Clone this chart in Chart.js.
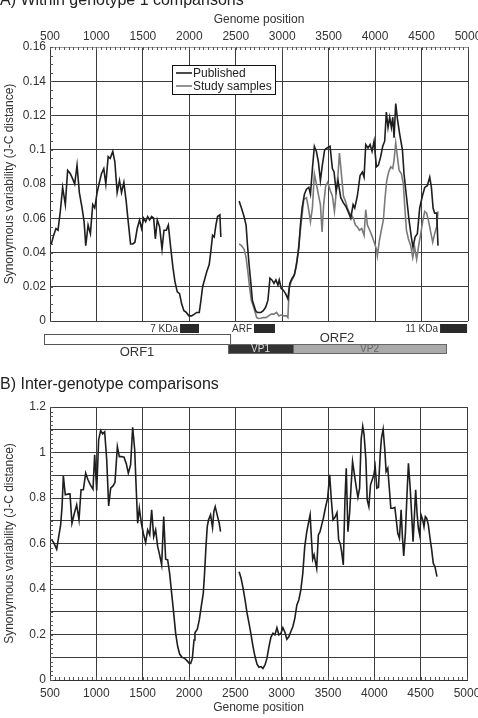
<!DOCTYPE html>
<html>
<head>
<meta charset="utf-8">
<script src="https://cdn.jsdelivr.net/npm/chart.js@4.4.1/dist/chart.umd.min.js"></script>
<style>
  body { margin: 0; background: #fff; overflow: hidden; }
  #wrap { position: relative; width: 478px; height: 718px; }
  canvas { position: absolute; left: 0; }
  #topChart { top: 0; }
  #bottomChart { top: 360px; }
</style>
</head>
<body>
<div id="wrap">
  <canvas id="topChart" width="478" height="360"></canvas>
  <canvas id="bottomChart" width="478" height="358"></canvas>
</div>
<script>
// --- data (genome position, J-C distance); null marks the gap ---
const pubPos = [514,539,564,586,611,636,665,690,719,744,766,791,816,845,867,885,910,935,960,982,
  1007,1032,1054,1079,1101,1126,1148,1176,1198,1223,1248,1270,1295,1320,1342,1367,1392,1414,1439,1464,
  1486,1508,1530,1551,1572,1594,1616,1634,1655,1680,1706,1727,1752,1774,1799,1824,1845,1870,1895,1917,
  1942,1967,1996,2025,2054,2079,2107,2125,2143,2168,2189,2214,2232,2250,2268,2286,2304,2329,2339,2440,
  2536,2561,2589,2611,2625,2643,2661,2679,2696,2714,2732,2754,2771,2796,2821,2846,2868,2889,2911,2932,
  2954,2968,2989,3011,3036,3061,3082,3107,3132,3154,3179,3196,3214,3239,3261,3286,3304,3325,3346,3368,
  3389,3411,3432,3457,3482,3515,3540,3558,3580,3601,3630,3659,3684,3709,3738,3763,3781,3809,3838,3863,
  3881,3899,3924,3946,3967,3989,4014,4035,4060,4082,4103,4121,4139,4157,4175,4190,4204,4222,4240,4265,
  4294,4311,4337,4365,4390,4408,4430,4455,4480,4509,4534,4562,4588,4606,4624,4641,4663,4677];
const pubVal = [0.045,0.050,0.054,0.053,0.064,0.078,0.068,0.088,0.086,0.083,0.080,0.091,0.075,0.066,0.058,0.044,0.056,0.051,0.068,0.066,
  0.075,0.081,0.086,0.089,0.080,0.096,0.095,0.099,0.093,0.075,0.082,0.075,0.081,0.070,0.058,0.045,0.045,0.046,0.054,0.059,
  0.054,0.060,0.058,0.061,0.059,0.061,0.060,0.048,0.059,0.055,0.042,0.053,0.053,0.056,0.043,0.031,0.023,0.017,0.016,0.010,
  0.006,0.005,0.003,0.003,0.004,0.005,0.005,0.012,0.020,0.025,0.029,0.033,0.041,0.050,0.049,0.056,0.061,0.062,0.049,null,
  0.070,0.066,0.061,0.056,0.045,0.033,0.023,0.012,0.009,0.006,0.005,0.005,0.005,0.006,0.008,0.012,0.025,0.024,0.022,0.024,
  0.021,0.024,0.019,0.018,0.016,0.013,0.022,0.025,0.027,0.033,0.043,0.056,0.066,0.074,0.077,0.078,0.074,0.089,0.102,0.099,
  0.093,0.082,0.091,0.100,0.101,0.102,0.089,0.087,0.076,0.082,0.072,0.069,0.067,0.064,0.060,0.068,0.066,0.073,0.085,0.087,
  0.084,0.103,0.101,0.103,0.099,0.105,0.090,0.091,0.096,0.102,0.105,0.122,0.113,0.119,0.113,0.119,0.107,0.127,0.118,0.109,
  0.100,0.086,0.073,0.059,0.049,0.043,0.049,0.051,0.066,0.073,0.078,0.079,0.084,0.078,0.066,0.063,0.063,0.044];

const studyPos = [2536,2561,2589,2611,2632,2650,2668,2686,2704,2725,2746,2768,2796,2825,2854,2882,2911,2939,2964,2989,
  3018,3046,3061,3075,3096,3125,3146,3168,3189,3214,3232,3261,3282,3304,3325,3346,3368,3389,3411,3429,
  3446,3468,3489,3518,3540,3562,3583,3601,3616,3637,3659,3680,3702,3723,3745,3766,3788,3809,3831,3856,
  3881,3899,3917,3942,3971,3996,4014,4024,4046,4067,4089,4107,4125,4146,4168,4190,4204,4222,4240,4258,
  4283,4304,4319,4337,4358,4383,4405,4426,4447,4469,4491,4512,4534,4555,4577,4598,4620,4641,4663,4677];
const studyVal = [0.045,0.044,0.042,0.037,0.028,0.019,0.012,0.009,0.006,0.002,0.0015,0.0016,0.002,0.002,0.003,0.004,0.004,0.005,0.003,0.0035,
  0.003,0.003,0.002,0.019,0.023,0.026,0.031,0.039,0.050,0.062,0.071,0.072,0.066,0.058,0.066,0.086,0.080,0.074,0.068,0.052,
  0.068,0.079,0.081,0.076,0.073,0.064,0.076,0.086,0.098,0.086,0.073,0.070,0.066,0.063,0.062,0.060,0.056,0.055,0.053,0.054,
  0.050,0.065,0.056,0.053,0.049,0.045,0.042,0.038,0.047,0.053,0.059,0.072,0.082,0.087,0.090,0.089,0.094,0.104,0.096,0.088,
  0.086,0.080,0.067,0.053,0.048,0.044,0.037,0.043,0.036,0.044,0.051,0.058,0.064,0.063,0.058,0.052,0.046,0.051,0.055,0.064];

const interPos = [514,540,572,594,615,630,644,665,691,716,737,763,788,813,835,860,885,910,935,964,
  982,1004,1025,1047,1068,1090,1112,1133,1155,1180,1201,1227,1248,1273,1299,1324,1345,1370,1392,1414,
  1428,1446,1464,1486,1507,1532,1554,1576,1597,1619,1640,1662,1683,1705,1727,1748,1770,1791,1813,1835,
  1856,1878,1899,1924,1953,1978,2004,2018,2036,2054,2064,2090,2111,2132,2154,2168,2183,2197,2211,2233,
  2254,2268,2283,2304,2326,2340,2440,
  2541,2562,2584,2605,2627,2648,2670,2691,2712,2734,2755,2777,2798,2820,2841,2863,2884,2906,2927,2949,
  2970,2992,3013,3035,3056,3078,3099,3121,3142,3164,3185,3207,3228,3249,3271,3292,3307,3321,3335,3350,
  3360,3378,3396,3414,3432,3450,3471,3496,3518,3536,3554,3575,3597,3615,3633,3647,3665,3683,3697,3715,
  3733,3751,3765,3783,3805,3823,3841,3858,3875,3889,3909,3923,3941,3959,3977,3995,4009,4027,4045,4063,
  4077,4095,4113,4127,4145,4163,4178,4199,4221,4235,4253,4271,4289,4303,4317,4335,4353,4368,4386,4404,
  4418,4432,4446,4461,4475,4489,4504,4522,4536,4550,4565,4583,4601,4619,4636,4654,4676];
const interVal = [0.619,0.604,0.575,0.630,0.682,0.762,0.897,0.814,0.817,0.818,0.689,0.733,0.770,0.704,0.836,0.836,0.909,0.880,0.858,0.839,
  0.990,0.833,1.056,1.097,1.082,1.091,0.968,0.765,0.843,0.853,0.868,1.026,0.982,0.982,0.979,0.950,0.909,0.946,1.111,1.012,
  0.865,0.689,0.755,0.689,0.645,0.604,0.660,0.638,0.748,0.630,0.660,0.586,0.550,0.506,0.718,0.531,0.528,0.469,0.381,0.293,
  0.205,0.147,0.114,0.100,0.095,0.085,0.073,0.073,0.095,0.176,0.208,0.223,0.264,0.323,0.381,0.469,0.586,0.674,0.704,0.726,
  0.670,0.740,0.762,0.726,0.689,0.652,null,
  0.476,0.447,0.403,0.352,0.293,0.249,0.198,0.147,0.103,0.070,0.056,0.059,0.051,0.066,0.095,0.147,0.188,0.205,0.198,0.230,
  0.198,0.205,0.230,0.210,0.179,0.191,0.213,0.235,0.271,0.330,0.352,0.396,0.469,0.586,0.652,0.696,0.726,0.623,0.531,0.550,
  0.528,0.491,0.638,0.652,0.682,0.711,0.755,0.799,0.902,0.792,0.704,0.715,0.736,0.616,0.598,0.564,0.506,0.792,0.931,0.652,
  0.733,0.865,0.960,0.909,0.847,0.803,0.843,1.060,1.115,1.080,0.968,0.792,0.762,0.858,0.880,0.902,0.938,0.843,0.847,0.990,
  1.063,1.102,1.012,0.916,0.931,0.836,0.755,0.755,0.759,0.711,0.645,0.623,0.748,0.630,0.545,0.645,0.821,0.953,0.850,0.718,
  0.608,0.718,0.836,0.733,0.667,0.638,0.726,0.704,0.674,0.718,0.711,0.682,0.623,0.572,0.513,0.498,0.454];

// genome features under panel A
const markerNames = ['7 KDa', 'ARF', '11 KDa'];
const markerStart = [1900, 2696, 4699];
const markerEnd = [2104, 2922, 4990];
const orfNames = ['ORF1', 'VP1', 'VP2'];
const orfStart = [435, 2416, 3116];
const orfEnd = [2438, 3116, 4763];

const FONT = '"Liberation Sans", Arial, Helvetica, sans-serif';
Chart.defaults.font.family = FONT;
Chart.defaults.color = '#333';

function toPoints(xs, ys) {
  return xs.map((x, i) => ({ x: x, y: ys[i] }));
}

const GRID = '#3c3c3c';

// panel heading text
const panelTitle = {
  id: 'panelTitle',
  afterDraw(chart, args, opts) {
    const ctx = chart.ctx;
    ctx.save();
    ctx.font = '16px ' + FONT;
    ctx.fillStyle = '#222';
    ctx.textBaseline = 'alphabetic';
    ctx.fillText(opts.text, 0, opts.y);
    ctx.restore();
  }
};

// small inward minor ticks along the axes
const minorTicks = {
  id: 'minorTicks',
  afterDatasetsDraw(chart, args, opts) {
    const { ctx, chartArea: a, scales: { x, y } } = chart;
    ctx.save();
    ctx.strokeStyle = '#555';
    ctx.lineWidth = 1;
    ctx.beginPath();
    const ey = opts.xEdge === 'top' ? a.top : a.bottom;
    const dir = opts.xEdge === 'top' ? 1 : -1;
    for (let v = x.min; v <= x.max + 1e-9; v += opts.xStep) {
      const px = Math.round(x.getPixelForValue(v)) + 0.5;
      ctx.moveTo(px, ey);
      ctx.lineTo(px, ey + dir * 3);
    }
    for (let v = y.min; v <= y.max + 1e-9; v += opts.yStep) {
      const py = Math.round(y.getPixelForValue(v)) + 0.5;
      ctx.moveTo(a.left, py);
      ctx.lineTo(a.left + 3, py);
    }
    ctx.stroke();
    ctx.restore();
  }
};

// legend box inside panel A
const boxLegend = {
  id: 'boxLegend',
  afterDraw(chart) {
    const ctx = chart.ctx;
    ctx.save();
    ctx.fillStyle = '#fff';
    ctx.fillRect(172, 65, 103, 29);
    ctx.strokeStyle = '#111';
    ctx.lineWidth = 1;
    ctx.strokeRect(172.5, 65.5, 103, 29);
    ctx.font = '12px ' + FONT;
    ctx.textBaseline = 'middle';
    chart.data.datasets.forEach((ds, i) => {
      const yy = 73 + i * 13;
      ctx.strokeStyle = ds.borderColor;
      ctx.lineWidth = 1.6;
      ctx.beginPath();
      ctx.moveTo(176, yy);
      ctx.lineTo(192, yy);
      ctx.stroke();
      ctx.fillStyle = '#222';
      ctx.fillText(ds.label, 193, yy + 1);
    });
    ctx.restore();
  }
};

// gene map drawn below panel A on the genome-position scale
const geneMap = {
  id: 'geneMap',
  afterDraw(chart) {
    const ctx = chart.ctx;
    const x = chart.scales.x;
    const px = v => x.getPixelForValue(v);
    ctx.save();
    ctx.textBaseline = 'middle';
    // small protein markers
    ctx.font = '10px ' + FONT;
    markerNames.forEach((name, i) => {
      const x0 = px(markerStart[i]), x1 = px(markerEnd[i]);
      ctx.fillStyle = '#2a2a2a';
      ctx.fillRect(x0, 324, x1 - x0, 9);
      ctx.fillStyle = '#333';
      ctx.textAlign = 'right';
      ctx.fillText(name, x0 - 2, 329);
    });
    // ORF1 outline
    let x0 = px(orfStart[0]), x1 = px(orfEnd[0]);
    ctx.fillStyle = '#fff';
    ctx.fillRect(x0, 334, x1 - x0, 10);
    ctx.strokeStyle = '#555';
    ctx.lineWidth = 1;
    ctx.strokeRect(Math.round(x0) + 0.5, 334.5, x1 - x0, 10);
    ctx.font = '13px ' + FONT;
    ctx.textAlign = 'center';
    ctx.fillStyle = '#333';
    ctx.fillText(orfNames[0], (x0 + x1) / 2, 352);
    // VP1 / VP2
    const fills = ['#333', '#aaa'];
    const inks = ['#ddd', '#666'];
    for (let i = 1; i < 3; i++) {
      x0 = px(orfStart[i]); x1 = px(orfEnd[i]);
      ctx.fillStyle = fills[i - 1];
      ctx.fillRect(x0, 344, x1 - x0, 9);
      ctx.strokeStyle = '#666';
      ctx.strokeRect(Math.round(x0) + 0.5, 344.5, x1 - x0, 9);
      ctx.font = '10px ' + FONT;
      ctx.fillStyle = inks[i - 1];
      ctx.fillText(orfNames[i], (x0 + x1) / 2, 349);
    }
    // ORF2 label over VP1+VP2
    ctx.font = '13px ' + FONT;
    ctx.fillStyle = '#333';
    ctx.fillText('ORF2', (px(orfStart[1]) + px(orfEnd[2])) / 2, 338);
    ctx.restore();
  }
};

const lineStyle = { pointRadius: 0, borderWidth: 1.6, tension: 0, spanGaps: false, fill: false };
const plainNumber = v => String(Math.round(v * 1000) / 1000);

new Chart(document.getElementById('topChart'), {
  type: 'line',
  data: {
    datasets: [
      Object.assign({ label: 'Published', data: toPoints(pubPos, pubVal), borderColor: '#1e1e1e', order: 1 }, lineStyle),
      Object.assign({ label: 'Study samples', data: toPoints(studyPos, studyVal), borderColor: '#7a7a7a', order: 2 }, lineStyle)
    ]
  },
  options: {
    responsive: false,
    animation: false,
    layout: { padding: { left: 0, right: 10, top: 0, bottom: 39 } },
    plugins: {
      legend: { display: false },
      tooltip: { enabled: false },
      panelTitle: { text: 'A) Within genotype 1 comparisons', y: 5 },
      minorTicks: { xStep: 50, yStep: 0.005, xEdge: 'top' }
    },
    scales: {
      x: {
        type: 'linear', position: 'top', min: 500, max: 5000,
        ticks: { stepSize: 500, padding: 3, font: { size: 12 }, color: '#333', callback: plainNumber },
        grid: { color: GRID, lineWidth: 1, drawTicks: false },
        border: { display: true, color: '#999' },
        title: { display: true, text: 'Genome position', font: { size: 12 }, color: '#333', padding: { top: 12, bottom: 0 } },
        afterFit: s => { s.height = 47; s.paddingLeft = 0; s.paddingRight = 0; }
      },
      y: {
        min: 0, max: 0.16,
        ticks: { stepSize: 0.02, padding: 4, font: { size: 12 }, color: '#333', callback: plainNumber },
        grid: { color: GRID, lineWidth: 1, drawTicks: false },
        border: { display: true, color: '#333' },
        title: { display: true, text: 'Synonymous variability (J-C distance)', font: { size: 12 }, color: '#333', padding: { top: 2, bottom: 0 } },
        afterFit: s => { s.width = 50; }
      }
    }
  },
  plugins: [panelTitle, minorTicks, boxLegend, geneMap]
});

new Chart(document.getElementById('bottomChart'), {
  type: 'line',
  data: {
    datasets: [
      Object.assign({ label: 'Inter-genotype', data: toPoints(interPos, interVal), borderColor: '#1e1e1e' }, lineStyle)
    ]
  },
  options: {
    responsive: false,
    animation: false,
    layout: { padding: { left: 0, right: 11, top: 47, bottom: 0 } },
    plugins: {
      legend: { display: false },
      tooltip: { enabled: false },
      panelTitle: { text: 'B) Inter-genotype comparisons', y: 29 },
      minorTicks: { xStep: 50, yStep: 0.02, xEdge: 'bottom' }
    },
    scales: {
      x: {
        type: 'linear', position: 'bottom', min: 500, max: 5000,
        ticks: { stepSize: 500, padding: 6, font: { size: 12 }, color: '#333', callback: plainNumber },
        grid: { color: GRID, lineWidth: 1, drawTicks: false },
        border: { display: true, color: '#333' },
        title: { display: true, text: 'Genome position', font: { size: 12 }, color: '#333', padding: { top: 0, bottom: 3 } },
        afterFit: s => { s.height = 38; s.paddingLeft = 0; s.paddingRight = 0; }
      },
      y: {
        min: 0, max: 1.2,
        ticks: {
          stepSize: 0.1, padding: 4, font: { size: 12 }, color: '#333',
          callback: v => (Math.round(v * 10) % 2 === 0 ? String(Math.round(v * 10) / 10) : '')
        },
        grid: { color: GRID, lineWidth: 1, drawTicks: false },
        border: { display: true, color: '#333' },
        title: { display: true, text: 'Synonymous variability (J-C distance)', font: { size: 12 }, color: '#333', padding: { top: 2, bottom: 0 } },
        afterFit: s => { s.width = 50; }
      }
    }
  },
  plugins: [panelTitle, minorTicks]
});
</script>
</body>
</html>
